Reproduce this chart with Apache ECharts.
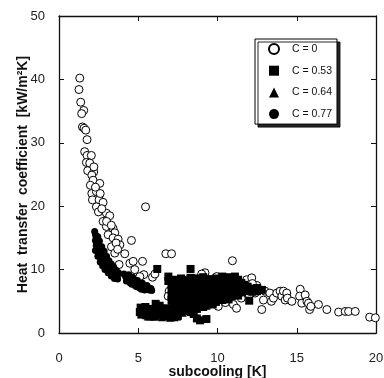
<!DOCTYPE html>
<html><head><meta charset="utf-8">
<script src="https://cdn.jsdelivr.net/npm/echarts@6/dist/echarts.min.js"></script>
<style>html,body{margin:0;padding:0;background:#fff}#c{width:384px;height:378px}</style>
</head><body><div id="c"></div>
<script>
const xTicks = [0, 5, 10, 15, 20];
const yTicks = [0, 10, 20, 30, 40, 50];
const seriesNames = ['C = 0', 'C = 0.53', 'C = 0.64', 'C = 0.77'];

const c0 = [
 [1.31,40.2],[1.26,38.4],[1.37,36.4],[1.56,35.1],[1.43,34.6],[1.48,32.5],[1.58,32.3],[1.69,32.0],
 [1.77,30.5],[1.62,28.6],[1.77,28.0],[2.04,28.0],[1.73,26.9],[1.94,26.8],[1.81,25.6],[2.19,25.4],
 [2.07,24.9],[2.15,24.1],[2.57,23.6],[1.98,23.3],[2.07,22.0],[2.36,22.3],[2.11,21.0],[2.53,21.0],
 [2.36,19.9],[2.49,19.1],[2.78,20.6],[2.99,18.9],[3.2,18.5],[2.78,17.6],[2.99,16.8],[3.41,16.5],
 [3.52,15.8],[3.1,15.5],[3.41,15.0],[3.73,14.8],[3.31,13.6],[3.84,13.9],[3.52,12.6],[4.15,12.5],
 [4.57,14.6],[3.79,10.8],[4.47,11.0],[4.68,11.3],[5.27,11.3],[4.78,10.0],[5.35,9.2],[5.1,8.9],
 [5.46,19.9],[5.9,8.8],[6.05,9.3],[6.74,12.5],[7.1,12.5],[6.95,6.6],[6.89,5.8],[8.11,8.4],
 [9.21,9.5],[9.95,8.9],[10.05,4.2],[10.94,11.4],[11.0,4.5],[11.2,3.9],[11.84,8.4],[12.16,8.7],
 [12.48,7.5],[12.37,6.3],[12.79,3.7],[12.9,5.2],[13.0,6.6],[13.3,6.3],[13.4,5.0],[13.53,5.5],
 [13.74,6.3],[13.95,6.6],[14.06,5.8],[14.16,6.6],[14.27,5.2],[14.37,6.3],[14.41,5.5],[14.69,5.0],
 [15.22,6.9],[15.18,5.8],[15.32,4.7],[15.53,6.0],[15.64,5.0],[15.74,4.7],[15.81,3.7],[15.89,4.2],
 [16.37,4.5],[16.9,3.7],[17.64,3.3],[18.06,3.4],[18.27,3.4],[18.69,3.4],[19.6,2.5],[19.96,2.4],
 [2.2,26.2],[2.3,23.0],[2.6,22.0],[2.7,19.6],[3.0,17.6],[3.3,17.0],[3.6,14.2],[3.7,13.2],
 [8.5,8.6],[9.0,9.3],[10.5,4.8],[11.5,5.5],[12.0,6.0],[12.2,7.8],[10.8,7.2]
];

const c053 = [
 [5.1,3.3],[5.2,2.9],[5.3,3.6],[5.4,3.1],[5.5,2.8],[5.6,3.4],[5.7,3.0],[5.8,3.8],[5.9,2.7],[6.0,3.2],
 [6.1,4.6],[6.2,3.5],[6.3,2.9],[6.4,3.9],[6.5,3.1],[6.6,2.7],[6.7,3.4],[6.8,3.0],[6.9,2.6],[7.0,3.6],
 [7.1,2.5],[7.2,3.1],[7.3,2.8],[7.4,3.4],[7.5,2.7],[7.6,3.9],[5.15,4.0],[5.45,4.1],[5.75,2.6],[6.05,2.6],
 [6.35,4.3],[6.55,3.7],[6.85,3.9],[7.15,4.2],[7.45,2.6],
 [6.2,10.1],[6.9,8.9],[6.9,8.2],
 [7.1,7.6],[7.1,6.8],[7.1,5.9],[7.1,5.2],
 [7.3,8.4],[7.3,7.2],[7.3,6.4],[7.3,5.6],[7.3,4.8],[7.3,4.0],
 [7.5,8.0],[7.5,7.0],[7.5,6.1],[7.5,5.3],[7.5,4.5],[7.5,3.7],
 [7.7,8.6],[7.7,7.5],[7.7,6.6],[7.7,5.7],[7.7,4.9],[7.7,4.1],
 [7.9,7.9],[7.9,6.9],[7.9,6.0],[7.9,5.1],[7.9,4.3],[7.9,3.5],
 [8.1,8.3],[8.1,7.4],[8.1,6.5],[8.1,5.5],[8.1,4.6],[8.1,3.8],
 [8.3,10.1],[8.3,8.7],[8.3,7.8],[8.3,6.8],[8.3,5.9],[8.3,5.0],[8.3,4.2],[8.3,3.3],
 [8.5,8.1],[8.5,7.1],[8.5,6.2],[8.5,5.3],[8.5,4.4],[8.5,3.0],
 [8.7,8.6],[8.7,7.6],[8.7,6.6],[8.7,5.7],[8.7,4.7],[8.7,3.8],[8.7,2.3],
 [8.9,8.2],[8.9,7.2],[8.9,6.3],[8.9,5.4],[8.9,4.5],[8.9,2.0],
 [9.1,8.8],[9.1,7.7],[9.1,6.8],[9.1,5.9],[9.1,5.0],[9.1,4.1],
 [9.3,8.0],[9.3,7.0],[9.3,6.1],[9.3,5.2],[9.3,4.3],[9.3,2.2],
 [9.5,8.5],[9.5,7.5],[9.5,6.6],[9.5,5.6],[9.5,4.7],
 [9.7,8.0],[9.7,7.1],[9.7,6.2],[9.7,5.3],[9.7,4.5],
 [9.9,8.6],[9.9,7.6],[9.9,6.7],[9.9,5.8],[9.9,4.9],
 [10.1,8.2],[10.1,7.3],[10.1,6.4],[10.1,5.5],
 [10.3,8.9],[10.3,7.8],[10.3,6.9],[10.3,6.0],[10.3,5.2],
 [10.5,8.4],[10.5,7.4],[10.5,6.5],[10.5,5.6],
 [10.7,8.8],[10.7,7.9],[10.7,7.0],[10.7,6.1],[10.7,5.3],
 [10.9,8.3],[10.9,7.5],[10.9,6.6],[10.9,5.8],
 [11.1,8.9],[11.1,7.9],[11.1,7.1],[11.1,6.3],
 [11.3,8.4],[11.3,7.5],[11.3,6.7],[11.3,5.9],
 [11.5,7.9],[11.5,7.2],[11.5,6.4],
 [11.7,7.6],[11.7,6.8],[11.9,7.3],[11.9,6.6],[12.0,5.1],
 [12.2,7.0],[12.2,6.5],[12.5,7.1],[12.5,6.6],[12.8,6.8]
];

const c064 = [
 [5.6,2.6],[6.0,2.6],[6.5,2.5],[6.8,2.8],[7.0,2.4],[7.3,2.5],[7.8,3.2]
];

const c077 = [
 [2.25,16.0],[2.3,15.5],[2.35,15.0],[2.4,14.4],[2.3,14.6],[2.45,13.8],[2.4,13.2],[2.55,13.3],
 [2.5,12.6],[2.65,12.8],[2.6,12.0],[2.75,12.2],[2.7,11.4],[2.85,11.6],[2.8,10.9],[2.95,11.0],
 [2.9,10.5],[3.05,10.4],[3.0,10.0],[3.15,10.0],[3.2,9.6],[3.3,9.7],[3.35,9.2],[3.45,9.3],
 [3.5,8.9],[3.6,9.0],[3.65,8.7],[3.7,9.2],[2.35,13.8],[2.5,14.0],[2.6,13.2],[2.7,12.9],
 [2.8,12.4],[2.9,11.8],[3.0,11.2],[3.1,10.8],[3.2,10.4],[3.3,10.2],[3.4,9.9],[3.55,9.6],
 [2.45,15.2],[2.55,14.5],[2.7,13.6],[2.85,12.9],[3.0,12.1],[3.15,11.4],[3.3,10.9],[3.45,10.4],
 [3.6,9.9],[3.75,9.5],[2.3,13.0],[2.45,12.1],[2.6,11.2],[2.75,10.6],[2.9,10.0],[3.1,9.5],
 [3.3,9.0],[3.5,8.6],[3.7,8.5],
 [4.1,9.3],[4.2,8.9],[4.3,8.6],[4.35,9.0],[4.45,8.4],[4.5,8.7],[4.6,8.1],[4.7,8.5],
 [4.75,7.9],[4.85,8.2],[4.9,7.6],[5.0,7.9],[5.05,7.4],[5.15,7.7],[5.2,7.2],[5.3,7.5],
 [5.35,7.0],[5.45,7.3],[5.5,6.9],[5.6,7.2],[5.7,6.8],[5.8,7.0],[4.25,8.2],[4.6,7.7],
 [4.9,7.3],[5.2,6.9],[4.4,9.2],[4.65,8.8],[4.95,8.3],[5.25,7.9],[5.55,7.5],[4.5,7.9],
 [4.8,7.5],[5.1,7.1],[5.4,6.8],[5.85,6.7]
];

const FONT = '"Liberation Sans", Arial, Helvetica, sans-serif';
const chart = echarts.init(document.getElementById('c'), null, {renderer: 'canvas'});

function axisBase(show, margin) {
  return {
    axisLine: {show: true, onZero: false, lineStyle: {color: '#111', width: 1.3}},
    axisTick: {show: true, inside: true, length: 5, lineStyle: {color: '#111', width: 1}},
    splitLine: {show: false},
    axisLabel: {show: show, margin: margin || 8, color: '#222', fontSize: 13, fontFamily: FONT}
  };
}

chart.setOption({
  animation: false,
  backgroundColor: '#fff',
  grid: {left: 59, right: 8, top: 16, bottom: 45, containLabel: false, outerBoundsMode: 'none'},
  legend: {
    orient: 'vertical', left: 255, top: 39,
    data: seriesNames,
    backgroundColor: '#fff', borderColor: '#000', borderWidth: 1,
    shadowColor: 'rgba(0,0,0,0.85)', shadowBlur: 0, shadowOffsetX: 3, shadowOffsetY: 3,
    padding: [4, 5, 4, 13],
    itemWidth: 10, itemHeight: 10, itemGap: 9.7,
    textStyle: {fontSize: 10.5, color: '#111', fontFamily: FONT, lineHeight: 12, padding: [0, 0, 0, 8]}
  },
  xAxis: [
    Object.assign(axisBase(true, 19), {
      type: 'value', position: 'bottom', min: xTicks[0], max: xTicks[xTicks.length - 1], interval: 5,
      name: 'subcooling [K]', nameLocation: 'middle', nameGap: 32, nameMoveOverlap: false,
      nameTextStyle: {fontSize: 14, fontWeight: 'bold', color: '#111', fontFamily: FONT}
    }),
    Object.assign(axisBase(false), {
      type: 'value', position: 'top', min: xTicks[0], max: xTicks[xTicks.length - 1], interval: 5
    })
  ],
  yAxis: [
    Object.assign(axisBase(true, 14), {
      type: 'value', position: 'left', min: yTicks[0], max: yTicks[yTicks.length - 1], interval: 10,
      name: 'Heat  transfer  coefficient  [kW/m²K]', nameLocation: 'middle', nameGap: 29, nameMoveOverlap: false,
      nameTextStyle: {fontSize: 14, fontWeight: 'bold', color: '#111', fontFamily: FONT}
    }),
    Object.assign(axisBase(false), {
      type: 'value', position: 'right', min: yTicks[0], max: yTicks[yTicks.length - 1], interval: 10
    })
  ],
  series: [
    {name: seriesNames[0], type: 'scatter', data: c0, symbol: 'circle', symbolSize: 8,
     itemStyle: {color: '#fff', borderColor: '#000', borderWidth: 1, opacity: 1}, z: 2},
    {name: seriesNames[1], type: 'scatter', data: c053, symbol: 'rect', symbolSize: 8,
     itemStyle: {color: '#000', opacity: 1}, z: 3},
    {name: seriesNames[2], type: 'scatter', data: c064, symbol: 'triangle', symbolSize: 8,
     itemStyle: {color: '#000', opacity: 1}, z: 3},
    {name: seriesNames[3], type: 'scatter', data: c077, symbol: 'circle', symbolSize: 7,
     itemStyle: {color: '#000', opacity: 1}, z: 3}
  ]
});
</script></body></html>
